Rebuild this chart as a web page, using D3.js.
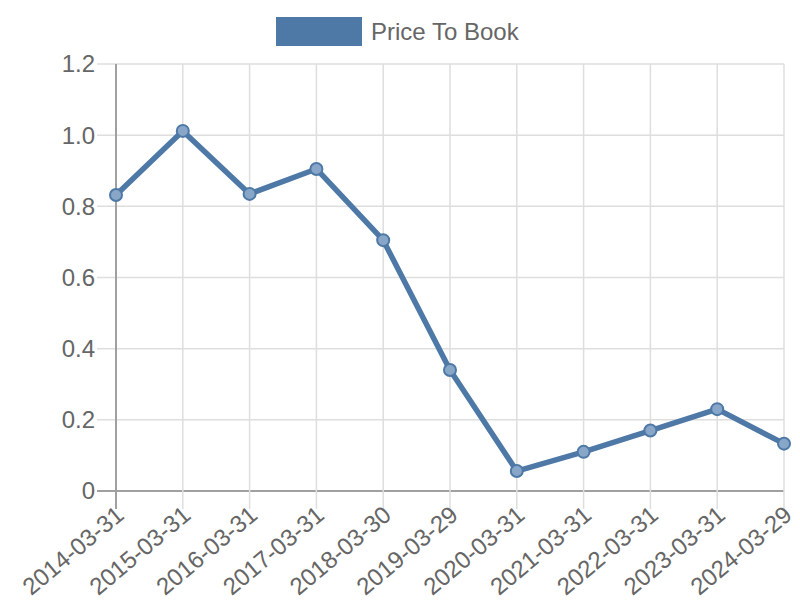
<!DOCTYPE html>
<html><head><meta charset="utf-8">
<script src="https://cdn.jsdelivr.net/npm/d3@7/dist/d3.min.js"></script>
<style>body{margin:0;background:#fff}svg{display:block;font-family:"Liberation Sans",Arial,sans-serif}</style>
</head><body><svg id="c" width="800" height="600"></svg>
<script>
const categories = ["2014-03-31","2015-03-31","2016-03-31","2017-03-31","2018-03-30","2019-03-29","2020-03-31","2021-03-31","2022-03-31","2023-03-31","2024-03-29"];
const priceToBook = [0.832,1.012,0.835,0.905,0.705,0.340,0.056,0.110,0.170,0.230,0.133];
const yTicks = [0,0.2,0.4,0.6,0.8,1.0,1.2];
const seriesName = "Price To Book";

const svg = d3.select("#c");
const L=116,R=784,T=64,B=491;
const x = d3.scalePoint().domain(categories).range([L,R]);
const y = d3.scaleLinear().domain([0,1.2]).range([B,T]);
const color = "#4e79a7";

// grid
svg.append("g").selectAll("line").data(yTicks).join("line")
  .attr("x1",L-19).attr("x2",R).attr("y1",d=>y(d)).attr("y2",d=>y(d))
  .attr("stroke",d=>d===0?"#a0a0a0":"#dedede").attr("stroke-width",d=>d===0?2:1.5);
svg.append("g").selectAll("line").data(categories).join("line")
  .attr("x1",d=>x(d)).attr("x2",d=>x(d)).attr("y1",T).attr("y2",B+18)
  .attr("stroke",(d,i)=>i===0?"#a0a0a0":"#dedede").attr("stroke-width",(d,i)=>i===0?2:1.5);

// y labels
svg.append("g").selectAll("text").data(yTicks).join("text")
  .attr("x",L-21).attr("y",d=>y(d)).attr("dy","0.35em").attr("text-anchor","end")
  .attr("fill","#666").attr("font-size",24)
  .text(d=>d===0?"0":d3.format(".1f")(d));
// x labels
svg.append("g").selectAll("text").data(categories).join("text")
  .attr("transform",d=>`translate(${x(d)+4},${B+20}) rotate(-40)`)
  .attr("text-anchor","end").attr("dy","0.35em")
  .attr("fill","#666").attr("font-size",24).text(d=>d);

// line
svg.append("path").datum(priceToBook)
  .attr("d",d3.line().x((d,i)=>x(categories[i])).y(d=>y(d)))
  .attr("fill","none").attr("stroke",color).attr("stroke-width",5.5).attr("stroke-linejoin","round");
svg.append("g").selectAll("circle").data(priceToBook).join("circle")
  .attr("cx",(d,i)=>x(categories[i])).attr("cy",d=>y(d)).attr("r",6)
  .attr("fill","#88a6c7").attr("stroke",color).attr("stroke-width",2);

// legend
svg.append("rect").attr("x",276).attr("y",17).attr("width",86).attr("height",29).attr("fill",color);
svg.append("text").attr("x",371).attr("y",32).attr("dy","0.35em").attr("fill","#666")
  .attr("font-size",24).text(seriesName);
</script></body></html>
